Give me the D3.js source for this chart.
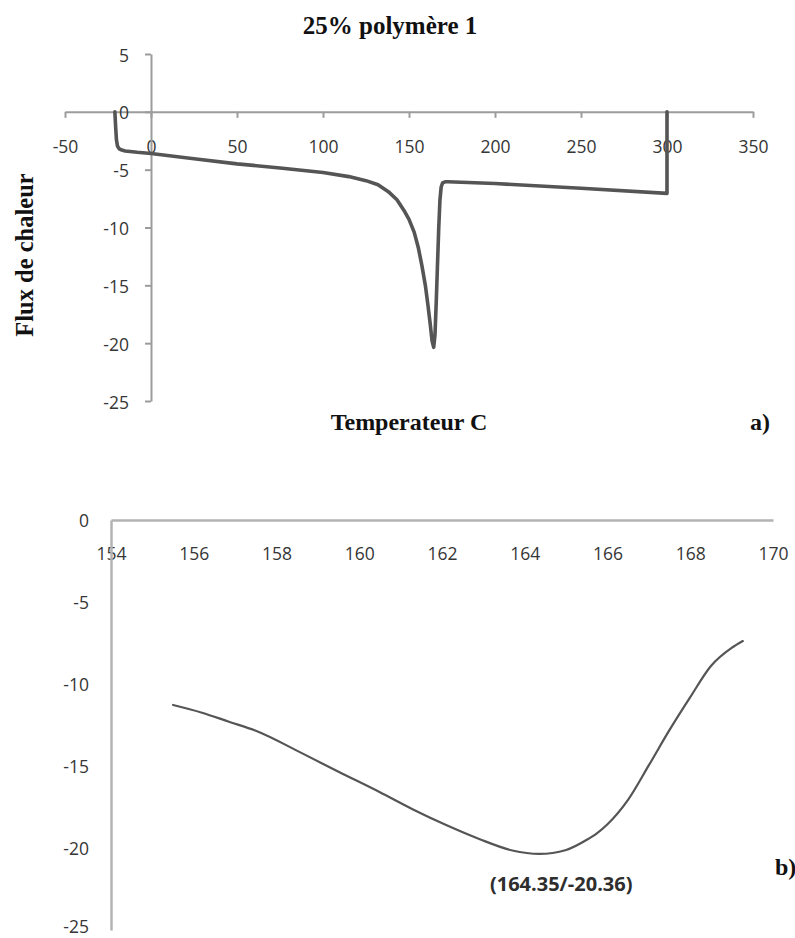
<!DOCTYPE html>
<html>
<head>
<meta charset="utf-8">
<script src="https://cdn.jsdelivr.net/npm/d3@7"></script>
<style>
  html, body { margin: 0; padding: 0; background: #fff; }
  svg { display: block; }
  .tick text { font-family: "Open Sans", sans-serif; font-size: 17.5px; fill: #363636; }
  .serif { font-family: "Liberation Serif", "Times New Roman", serif; font-weight: bold; fill: #111; }
</style>
</head>
<body>
<svg id="chart" width="795" height="938"></svg>
<script>
// (a) full DSC scan: temperature (°C) and heat flow
const scanTemp = [-21, -20.6, -20.1, -19.5, -18.5, -17, -15, -8, 0, 25, 50, 75, 100, 115, 125, 132, 138, 143, 147, 150, 153, 155.5, 157.5, 159.5, 161, 162.3, 163.4, 164.35, 165.1, 165.8, 166.5, 167.3, 168, 168.7, 169.5, 171, 172.5, 200, 250, 300, 300];
const scanFlux = [0, -1.2, -2.4, -2.95, -3.2, -3.3, -3.38, -3.5, -3.6, -4.05, -4.5, -4.85, -5.25, -5.6, -5.95, -6.3, -6.9, -7.6, -8.5, -9.3, -10.4, -11.8, -13.3, -15.0, -16.7, -18.3, -19.8, -20.36, -19.3, -16.6, -13.5, -10.0, -7.6, -6.5, -6.15, -6.05, -6.05, -6.2, -6.6, -7.05, 0];
const scanXTicks = [-50, 0, 50, 100, 150, 200, 250, 300, 350];
const scanYTicks = [5, 0, -5, -10, -15, -20, -25];

// (b) enlargement of the melting peak
const peakTemp = [155.5, 156.2, 156.85, 157.5, 158.6, 159.5, 160.5, 161.3, 162.1, 162.9, 163.7, 164.35, 165.0, 165.5, 165.75, 166.0, 166.5, 167.0, 167.5, 168.0, 168.5, 169.0, 169.27];
const peakFlux = [-11.28, -11.75, -12.3, -12.85, -14.2, -15.35, -16.6, -17.65, -18.6, -19.45, -20.15, -20.36, -20.12, -19.5, -19.09, -18.55, -17.05, -14.95, -12.8, -10.8, -8.9, -7.8, -7.38];
const peakXTicks = [154, 156, 158, 160, 162, 164, 166, 168, 170];
const peakYTicks = [0, -5, -10, -15, -20, -25];

const peakLabel = "(164.35/-20.36)";
const peakIndex = peakFlux.indexOf(d3.min(peakFlux));

// plain hyphen for negative tick labels
const fmt = d => String(d);

const svg = d3.select("#chart");

// ---------- panel (a) ----------
const xa = d3.scaleLinear().domain([-50, 350]).range([65, 753]);
const ya = d3.scaleLinear().domain([5, -25]).range([54, 401]);

const gA = svg.append("g");

const axisXA = gA.append("g")
  .attr("transform", `translate(0,${ya(0)})`)
  .call(d3.axisBottom(xa).tickValues(scanXTicks).tickFormat(fmt).tickSize(6).tickSizeOuter(0));
axisXA.selectAll(".tick text").attr("y", 41).attr("dy", 0);

const axisYA = gA.append("g")
  .attr("transform", `translate(${xa(0)},0)`)
  .call(d3.axisLeft(ya).tickValues(scanYTicks).tickFormat(fmt).tickSize(6).tickSizeOuter(0));
axisYA.selectAll(".tick text").attr("x", -22).attr("dy", 7);

gA.selectAll(".domain, .tick line").attr("stroke", "#9c9c9c").attr("stroke-width", 2);

gA.append("path")
  .datum(d3.range(scanTemp.length))
  .attr("fill", "none")
  .attr("stroke", "#555")
  .attr("stroke-width", 3.6)
  .attr("stroke-linejoin", "round")
  .attr("stroke-linecap", "round")
  .attr("d", d3.line().x(i => xa(scanTemp[i])).y(i => ya(scanFlux[i])).curve(d3.curveLinear));

gA.append("text").attr("class", "serif")
  .attr("x", 390).attr("y", 34).attr("text-anchor", "middle")
  .attr("font-size", 25).text("25% polymère 1");

gA.append("text").attr("class", "serif")
  .attr("transform", "translate(33,255) rotate(-90)")
  .attr("text-anchor", "middle").attr("font-size", 24.5)
  .text("Flux de chaleur");

gA.append("text").attr("class", "serif")
  .attr("x", 409).attr("y", 430).attr("text-anchor", "middle")
  .attr("font-size", 24).text("Temperateur C");

gA.append("text").attr("class", "serif")
  .attr("x", 750).attr("y", 430).attr("font-size", 24).text("a)");

// ---------- panel (b) ----------
const xb = d3.scaleLinear().domain([154, 170]).range([111, 773]);
const yb = d3.scaleLinear().domain([0, -25]).range([520, 930]);

const gB = svg.append("g");

const axisXB = gB.append("g")
  .attr("transform", `translate(0,${yb(0)})`)
  .call(d3.axisBottom(xb).tickValues(peakXTicks).tickFormat(fmt).tickSize(0).tickSizeOuter(0));
axisXB.selectAll(".tick text").attr("y", 40).attr("dy", 0);

const axisYB = gB.append("g")
  .attr("transform", `translate(${xb(154)},0)`)
  .call(d3.axisLeft(yb).tickValues(peakYTicks).tickFormat(fmt).tickSize(0).tickSizeOuter(0));
// the lowest label sits against the bottom edge, so it is lifted slightly
axisYB.selectAll(".tick text").attr("x", -22).attr("dy", d => d === -25 ? 2 : 6);

gB.selectAll(".domain").attr("stroke", "#b3b3b3").attr("stroke-width", 2.5);

gB.append("path")
  .datum(d3.range(peakTemp.length))
  .attr("fill", "none")
  .attr("stroke", "#555")
  .attr("stroke-width", 2.2)
  .attr("stroke-linecap", "round")
  .attr("d", d3.line().x(i => xb(peakTemp[i])).y(i => yb(peakFlux[i])).curve(d3.curveMonotoneX));

gB.append("text")
  .attr("x", xb(peakTemp[peakIndex]) + 22)
  .attr("y", yb(peakFlux[peakIndex]) + 37)
  .attr("text-anchor", "middle")
  .attr("font-family", "Open Sans, sans-serif")
  .attr("font-weight", "bold")
  .attr("font-size", 20)
  .attr("fill", "#2e2e2e")
  .text(peakLabel);

gB.append("text").attr("class", "serif")
  .attr("x", 775).attr("y", 875).attr("font-size", 24).text("b)");
</script>
</body>
</html>
